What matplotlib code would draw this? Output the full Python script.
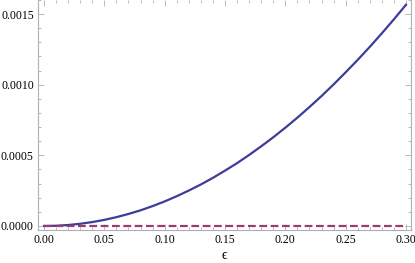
import matplotlib
matplotlib.use("Agg")
import matplotlib.pyplot as plt
from matplotlib.ticker import MultipleLocator, FormatStrFormatter

# values
eps = [0.00, 0.01, 0.02, 0.03, 0.04, 0.05, 0.06, 0.07, 0.08, 0.09, 0.10,
       0.11, 0.12, 0.13, 0.14, 0.15, 0.16, 0.17, 0.18, 0.19, 0.20,
       0.21, 0.22, 0.23, 0.24, 0.25, 0.26, 0.27, 0.28, 0.29, 0.30]
solid = [0.0, 0.0000017, 0.0000070, 0.0000157, 0.0000278, 0.0000435, 0.0000626,
         0.0000853, 0.000111, 0.000141, 0.000174, 0.000211, 0.000251, 0.000294,
         0.000341, 0.000392, 0.000445, 0.000503, 0.000564, 0.000628, 0.000696,
         0.000767, 0.000842, 0.000920, 0.001002, 0.001088, 0.001176, 0.001268,
         0.001364, 0.001463, 0.001566]
dashed = [0.0] * len(eps)

x_ticks = [0.00, 0.05, 0.10, 0.15, 0.20, 0.25, 0.30]
y_ticks = [0.0, 0.0005, 0.0010, 0.0015]

plt.rcParams['font.family'] = ['Liberation Serif', 'DejaVu Serif']

fig = plt.figure(figsize=(4.15, 2.63), dpi=100)
ax = fig.add_axes([0.0916, 0.1255, 0.8988, 0.8745])

ax.plot(eps, solid, color="#3d3d99", lw=1.6)
ax.plot(eps, dashed, color="#993d71", lw=1.6, dashes=(3.5, 1.6))

ax.set_xlim(-0.005, 0.3042)
ax.set_ylim(-0.0000283, 0.0016)

ax.set_xticks(x_ticks)
ax.set_yticks(y_ticks)
ax.xaxis.set_minor_locator(MultipleLocator(0.01))
ax.yaxis.set_minor_locator(MultipleLocator(0.0001))
ax.xaxis.set_major_formatter(FormatStrFormatter("%.2f"))
ax.yaxis.set_major_formatter(FormatStrFormatter("%.4f"))

ax.tick_params(which="both", direction="in", top=True, right=True,
               color="#b0b0b0", labelsize=8.5, labelcolor="black", width=0.6)
ax.tick_params(which="major", length=4, pad=3)
ax.tick_params(which="minor", length=2)

for side in ["left", "right", "bottom"]:
    ax.spines[side].set_color("#b0b0b0")
    ax.spines[side].set_linewidth(0.8)
ax.spines["top"].set_visible(False)

ax.set_xlabel("ϵ", fontsize=10, labelpad=2)

fig.savefig("out.png", dpi=100)
